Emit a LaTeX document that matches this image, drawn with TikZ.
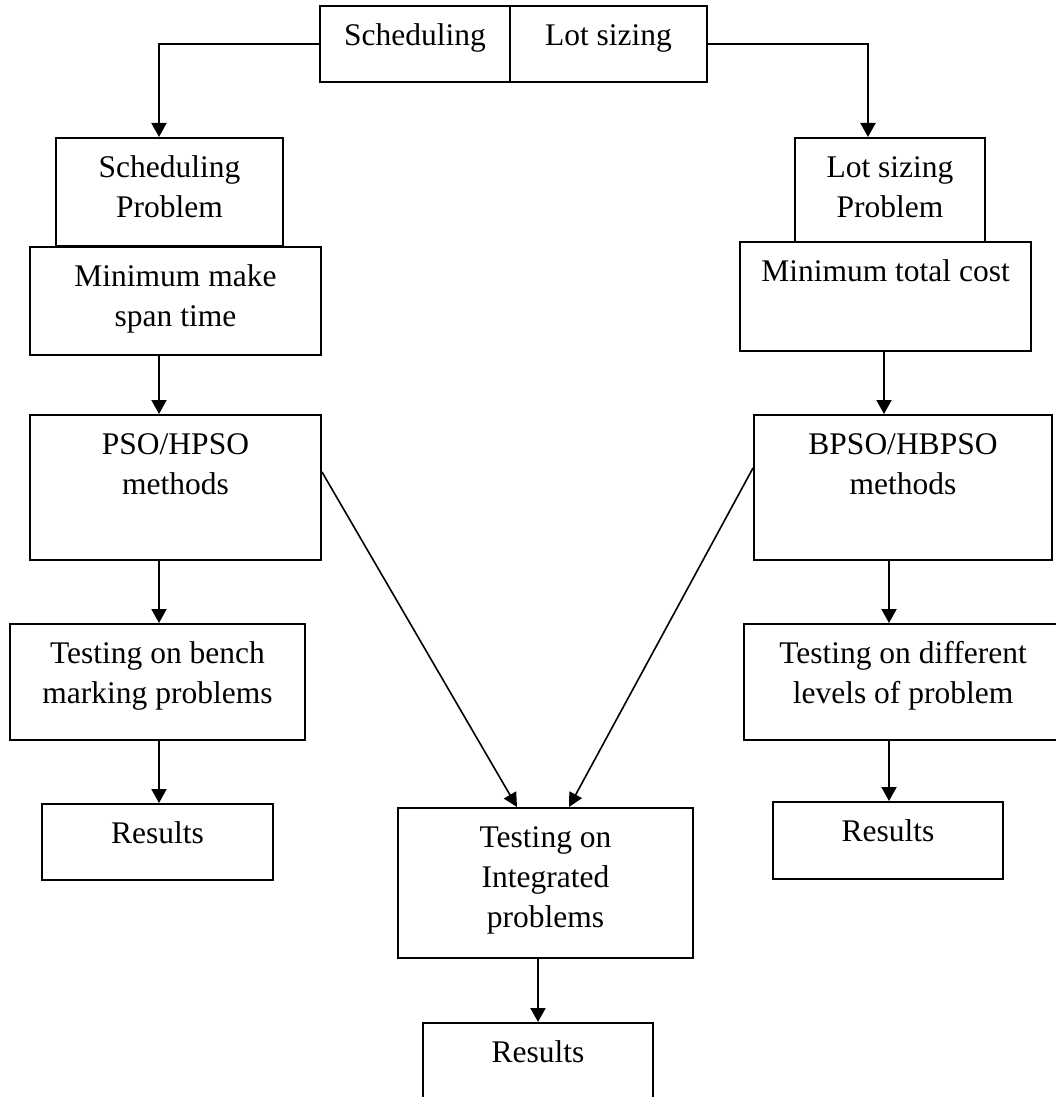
\documentclass[tikz,border=0pt]{standalone}
\usepackage{fontspec}
\setmainfont{Liberation Serif}
\usetikzlibrary{positioning,arrows.meta}

\tikzset{
  blk/.style={draw, line width=1pt, inner sep=0pt},
  txt/.style={align=center, inner sep=0pt, font=\fontsize{15.75}{20}\selectfont},
  arr/.style={line width=1pt, -{Triangle[length=7pt,width=7.5pt]}},
  darr/.style={line width=0.8pt, -{Triangle[length=7pt,width=7pt]}}
}

\begin{document}
\begin{tikzpicture}[x=0.5pt, y=-0.5pt]

  \useasboundingbox (0,0) rectangle (1055,1097);

  %% arrow columns
  \coordinate (cl) at (159,0);
  \coordinate (cr) at (868,0);
  \coordinate (cq) at (884,0);
  \coordinate (cs) at (889,0);

  %% top split box
  \node[blk, minimum width=95pt, minimum height=38pt] (sch) at (415,44) {};
  \node[blk, minimum width=98.5pt, minimum height=38pt] (lot) at (608.5,44) {};
  \node[txt, below=6pt of sch.north] (schT) {\strut Scheduling};
  \node[txt, below=6pt of lot.north] (lotT) {\strut Lot sizing};

  %% left column
  \node[blk, minimum width=113.5pt, minimum height=54pt] (schP) at (169.5,192) {};
  \node[blk, minimum width=145.5pt, minimum height=54pt] (minMk) at (175.5,301) {};
  \node[blk, minimum width=145.5pt, minimum height=72.5pt] (pso) at (175.5,487.5) {};
  \node[blk, minimum width=147.5pt, minimum height=58pt] (benchL) at (157.5,682) {};
  \node[blk, minimum width=115.5pt, minimum height=38pt] (resL) at (157.5,842) {};
  \node[txt, below=6pt of schP.north] (schPT) {\strut Scheduling\\Problem};
  \node[txt, below=6pt of minMk.north] (minMkT) {\strut Minimum make\\span time};
  \node[txt, below=6pt of pso.north] (psoT) {\strut PSO/HPSO\\methods};
  \node[txt, below=6pt of benchL.north] (benchLT) {\strut Testing on bench\\marking problems};
  \node[txt, below=6pt of resL.north] (resLT) {\strut Results};

  %% right column
  \node[blk, minimum width=95pt, minimum height=52pt] (lotP) at (890,190) {};
  \node[blk, minimum width=145.5pt, minimum height=54.5pt] (minCost) at (885.5,296.5) {};
  \node[blk, minimum width=149pt, minimum height=72.5pt] (bpso) at (903,487.5) {};
  \node[blk, minimum width=159pt, minimum height=58pt] (benchR) at (903,682) {};
  \node[blk, minimum width=115pt, minimum height=38.5pt] (resR) at (888,840.5) {};
  \node[txt, below=6pt of lotP.north] (lotPT) {\strut Lot sizing\\Problem};
  \node[txt, below=6pt of minCost.north] (minCostT) {\strut Minimum total cost};
  \node[txt, below=6pt of bpso.north] (bpsoT) {\strut BPSO/HBPSO\\methods};
  \node[txt, below=6pt of benchR.north] (benchRT) {\strut Testing on different\\levels of problem};
  \node[txt, below=6pt of resR.north] (resRT) {\strut Results};

  %% middle
  \node[blk, minimum width=147.5pt, minimum height=75pt] (integ) at (545.5,883) {};
  \node[blk, minimum width=115pt, minimum height=43.5pt] (resB) at (538,1066.5) {};
  \node[txt, below=6pt of integ.north] (integT) {\strut Testing on\\Integrated\\problems};
  \node[txt, below=6pt of resB.north] (resBT) {\strut Results};

  %% connectors
  \draw[arr] (sch.west) -| (cl |- schP.north);
  \draw[arr] (lot.east) -| (cr |- lotP.north);
  \draw[arr] (minMk.south -| cl) -- (pso.north -| cl);
  \draw[arr] (pso.south -| cl) -- (benchL.north -| cl);
  \draw[arr] (benchL.south -| cl) -- (resL.north -| cl);
  \draw[arr] (minCost.south -| cq) -- (bpso.north -| cq);
  \draw[arr] (bpso.south -| cs) -- (benchR.north -| cs);
  \draw[arr] (benchR.south -| cs) -- (resR.north -| cs);
  \draw[arr] (integ.south -| resB) -- (resB.north);

  \draw[darr] ([yshift=7.75pt]pso.east) -- ([xshift=-14.25pt]integ.north); % PSO -> integrated
  \draw[darr] ([yshift=9.75pt]bpso.west) -- ([xshift=11.75pt]integ.north); % BPSO -> integrated

\end{tikzpicture}
\end{document}
